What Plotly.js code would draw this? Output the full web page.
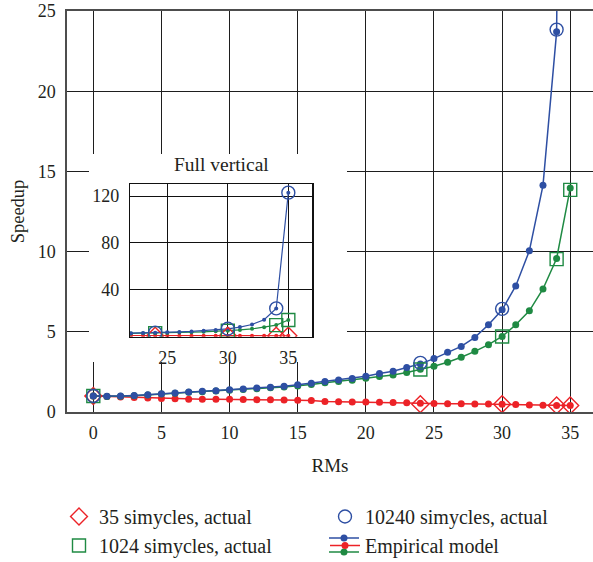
<!DOCTYPE html>
<html>
<head>
<meta charset="utf-8">
<script src="https://cdn.plot.ly/plotly-3.0.1.min.js"></script>
<style>
  html, body { margin: 0; padding: 0; background: #ffffff; }
  #chart { width: 593px; height: 562px; }
</style>
</head>
<body>
<div id="chart"></div>
<script>
// Number of RMs (x) for the empirical model curves
const rms = [0, 1, 2, 3, 4, 5, 6, 7, 8, 9, 10, 11, 12, 13, 14, 15, 16, 17,
             18, 19, 20, 21, 22, 23, 24, 25, 26, 27, 28, 29, 30, 31, 32, 33, 34, 35];

// Empirical model speedup for each simulation length
const model35 = [1.00, 0.97, 0.93, 0.90, 0.87, 0.84, 0.83, 0.80, 0.79, 0.79, 0.79, 0.78,
                 0.77, 0.76, 0.75, 0.73, 0.72, 0.66, 0.64, 0.63, 0.62, 0.61, 0.60, 0.58,
                 0.54, 0.53, 0.52, 0.51, 0.50, 0.50, 0.49, 0.47, 0.43, 0.42, 0.41, 0.41];
const model1024 = [1.00, 0.97, 0.98, 1.02, 1.06, 1.12, 1.17, 1.23, 1.27, 1.31, 1.36, 1.40,
                   1.45, 1.51, 1.56, 1.62, 1.72, 1.82, 1.90, 1.98, 2.10, 2.21, 2.31, 2.46,
                   2.66, 2.85, 3.10, 3.41, 3.78, 4.20, 4.71, 5.44, 6.31, 7.67, 9.57, 13.96];
const model10240 = [1.00, 0.98, 0.99, 1.03, 1.08, 1.14, 1.19, 1.25, 1.29, 1.33, 1.39, 1.43,
                    1.49, 1.55, 1.61, 1.70, 1.80, 1.90, 2.00, 2.09, 2.23, 2.40, 2.54, 2.78,
                    3.00, 3.33, 3.72, 4.09, 4.65, 5.44, 6.37, 7.86, 10.05, 14.13, 23.70, 123.0];

// Measured speedups
const actualRMs = [0, 24, 30, 34, 35];
const actual35 = [1.00, 0.49, 0.49, 0.41, 0.41];
const actual1024 = [1.00, 2.65, 4.71, 9.53, 13.85];
const actual10240 = [1.00, 3.06, 6.43, 23.84, 123.0];

// Axis ticks
const mainXTicks = [0, 5, 10, 15, 20, 25, 30, 35];
const mainYTicks = [0, 5, 10, 15, 20, 25];
const insetXTicks = [25, 30, 35];
const insetYTicks = [40, 80, 120];

const FONT = 'Liberation Serif, Times New Roman, serif';
const TEXT = '#231f20';
const INK = '#1e1e1e';
const RED = '#ec2227';
const GREEN = '#1f8a43';
const BLUE = '#2e4fa3';

// Plot-area geometry helpers (pixel -> paper fraction)
const M = { l: 67, r: 0, t: 11, b: 150, autoexpand: false };
const W = 593, H = 562;
const PW = W - M.l - M.r, PH = H - M.t - M.b;
const px = v => (v - M.l) / PW;
const py = v => (H - M.b - v) / PH;

function modelTrace(y, color, xa, ya, small, extra) {
  return Object.assign({
    x: rms, y: y, xaxis: xa, yaxis: ya,
    type: 'scatter', mode: 'lines+markers',
    line: { color: color, width: small ? 1.2 : 1.5 },
    marker: { color: color, size: small ? 4 : 7, symbol: 'circle' },
    showlegend: false, hoverinfo: 'x+y', cliponaxis: true
  }, extra || {});
}

function actualTrace(y, color, symbol, xa, ya, extra) {
  return Object.assign({
    x: actualRMs, y: y, xaxis: xa, yaxis: ya,
    type: 'scatter', mode: 'markers',
    marker: { symbol: symbol, size: 13, color: color, line: { width: 1.4 } },
    showlegend: false, hoverinfo: 'x+y', cliponaxis: true
  }, extra || {});
}

const data = [
  // main panel
  modelTrace(model35, RED, 'x', 'y', false,
             { name: 'Empirical model', showlegend: true, legendrank: 4 }),
  modelTrace(model1024, GREEN, 'x', 'y', false),
  modelTrace(model10240, BLUE, 'x', 'y', false),
  actualTrace(actual35, RED, 'diamond-open', 'x', 'y',
              { name: '35 simycles, actual', showlegend: true, legendrank: 1 }),
  actualTrace(actual1024, GREEN, 'square-open', 'x', 'y',
              { name: '1024 simycles, actual', showlegend: true, legendrank: 3 }),
  actualTrace(actual10240, BLUE, 'circle-open', 'x', 'y',
              { name: '10240 simycles, actual', showlegend: true, legendrank: 2 }),
  // white panel that carries the inset
  { x: [null], y: [null], xaxis: 'x2', yaxis: 'y2', type: 'scatter', mode: 'markers',
    showlegend: false, hoverinfo: 'skip' },
  // inset: full vertical range
  modelTrace(model35, RED, 'x3', 'y3', true),
  modelTrace(model1024, GREEN, 'x3', 'y3', true),
  modelTrace(model10240, BLUE, 'x3', 'y3', true),
  actualTrace(actual35, RED, 'diamond-open', 'x3', 'y3'),
  actualTrace(actual1024, GREEN, 'square-open', 'x3', 'y3'),
  actualTrace(actual10240, BLUE, 'circle-open', 'x3', 'y3')
];

const tickFont = { family: FONT, size: 18, color: TEXT };

// Extra model lines drawn into the legend symbol (blue above, green below the red one)
const legSym = { x0: 329, x1: 359, xc: 344, yRed: 545, dy: 7 };
function legendLine(color, yPix) {
  return [
    { type: 'line', xref: 'paper', yref: 'paper',
      x0: px(legSym.x0), x1: px(legSym.x1), y0: py(yPix), y1: py(yPix),
      line: { color: color, width: 1.5 } },
    { type: 'circle', xref: 'paper', yref: 'paper',
      x0: px(legSym.xc - 3.5), x1: px(legSym.xc + 3.5),
      y0: py(yPix + 3.5), y1: py(yPix - 3.5),
      fillcolor: color, line: { color: color, width: 0 } }
  ];
}

const layout = {
  width: W, height: H,
  margin: M,
  paper_bgcolor: '#ffffff',
  plot_bgcolor: '#ffffff',
  font: { family: FONT, color: TEXT },
  showlegend: true,
  xaxis: {
    domain: [0, 1], range: [-1.93, 36.67], anchor: 'y',
    tickvals: mainXTicks, ticks: '', tickfont: tickFont, ticklabelstandoff: 4,
    showgrid: true, gridcolor: INK, gridwidth: 1,
    showline: true, linecolor: '#4d4d4d', linewidth: 1.6, mirror: true,
    zeroline: false, fixedrange: true,
    title: { text: 'RMs', font: { family: FONT, size: 19, color: TEXT }, standoff: 16 }
  },
  yaxis: {
    domain: [0, 1], range: [0, 25], anchor: 'x',
    tickvals: mainYTicks, ticks: '', tickfont: tickFont, ticklabelstandoff: 6,
    ticklabeloverflow: 'allow',
    showgrid: true, gridcolor: INK, gridwidth: 1,
    showline: true, linecolor: '#4d4d4d', linewidth: 1.6,
    zeroline: false, fixedrange: true,
    title: { text: 'Speedup', font: { family: FONT, size: 18.5, color: TEXT }, standoff: 8 }
  },
  xaxis2: {
    domain: [px(89), px(347)], range: [0, 1], anchor: 'y2',
    visible: false, showgrid: false, zeroline: false, fixedrange: true
  },
  yaxis2: {
    domain: [py(362), py(154)], range: [0, 1], anchor: 'x2',
    visible: false, showgrid: false, zeroline: false, fixedrange: true
  },
  xaxis3: {
    domain: [px(130), px(312.3)], range: [21.92, 36.98], anchor: 'y3',
    tickvals: insetXTicks, ticks: '', tickfont: tickFont, ticklabelstandoff: 4,
    showgrid: true, gridcolor: '#111111', gridwidth: 1,
    showline: true, linecolor: '#111111', linewidth: 1.2, mirror: true,
    zeroline: false, fixedrange: true
  },
  yaxis3: {
    domain: [py(336.7), py(184)], range: [-0.4, 130.4], anchor: 'x3',
    tickvals: insetYTicks, ticks: '', tickfont: tickFont, ticklabelstandoff: 6,
    showgrid: true, gridcolor: '#111111', gridwidth: 1,
    showline: true, linecolor: '#111111', linewidth: 1.2, mirror: true,
    zeroline: false, fixedrange: true
  },
  annotations: [
    { text: 'Full vertical', xref: 'paper', yref: 'paper',
      x: px(221), y: py(165), xanchor: 'center', yanchor: 'middle',
      showarrow: false, font: { family: FONT, size: 19.5, color: TEXT } }
  ],
  legend: {
    orientation: 'h', x: px(59), xanchor: 'left', y: py(497), yanchor: 'top',
    entrywidth: 221, entrywidthmode: 'pixels',
    font: { family: FONT, size: 20, color: TEXT },
    bgcolor: 'rgba(0,0,0,0)', borderwidth: 0, traceorder: 'normal'
  },
  shapes: [].concat(
    legendLine(BLUE, legSym.yRed - legSym.dy),
    legendLine(GREEN, legSym.yRed + legSym.dy)
  )
};

Plotly.newPlot('chart', data, layout, { displayModeBar: false, staticPlot: true });
</script>
</body>
</html>
